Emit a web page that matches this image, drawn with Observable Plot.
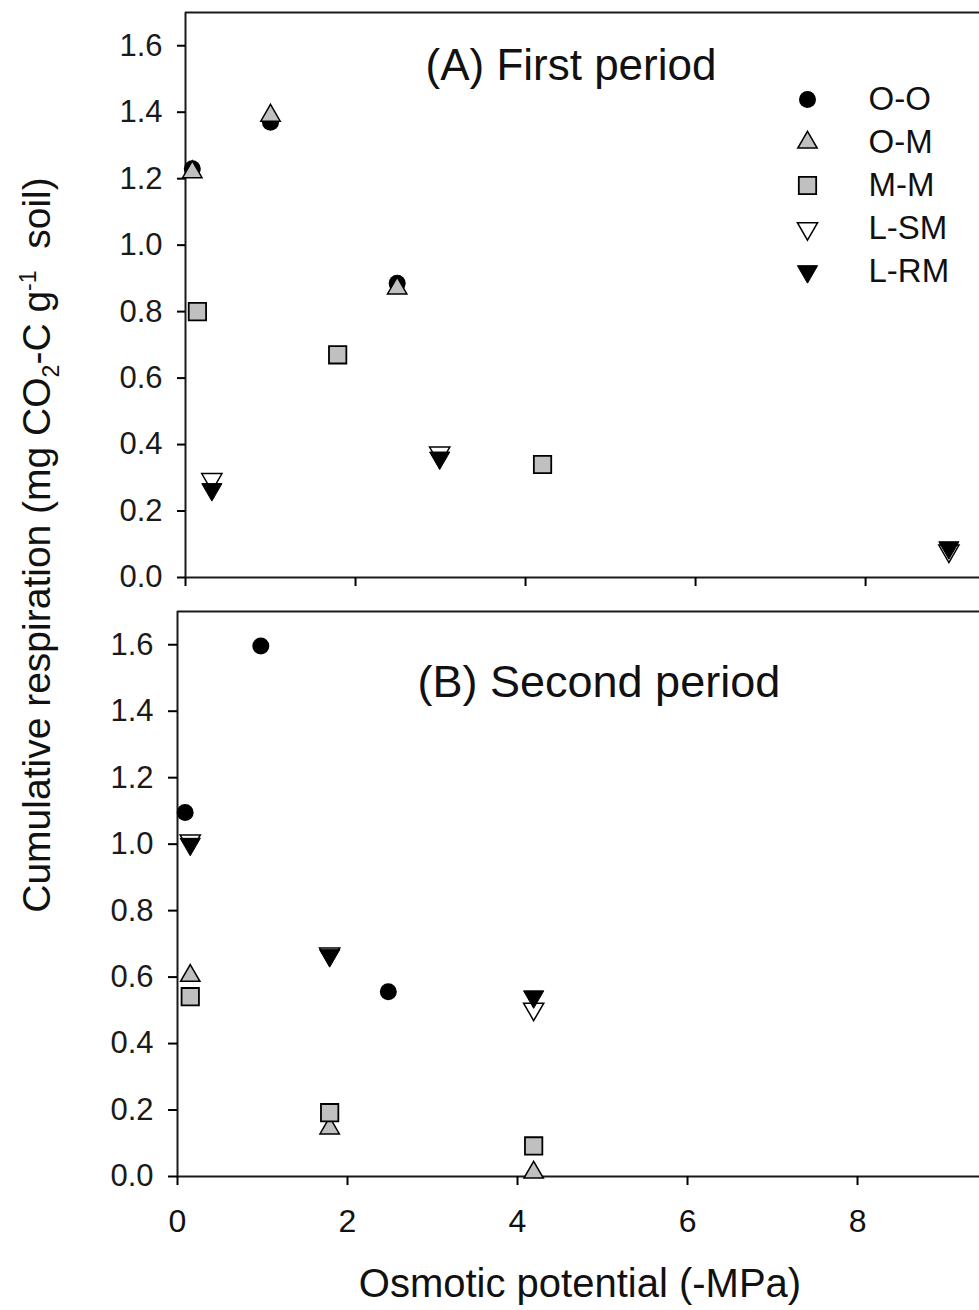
<!DOCTYPE html>
<html>
<head>
<meta charset="utf-8">
<script src="https://cdn.jsdelivr.net/npm/d3@7"></script>
<script src="https://cdn.jsdelivr.net/npm/@observablehq/plot@0.6"></script>
<style>
  html, body { margin: 0; padding: 0; background: #fff; overflow: hidden; }
  #wrap { position: relative; width: 979px; height: 1310px; font-family: "Liberation Sans", Arial, sans-serif; color: #000; }
  #wrap > * { position: absolute; }
  #ylab { left: 40px; top: 545px; transform: translate(-50%, -50%) rotate(-90deg); white-space: nowrap; font-size: 39px; line-height: 1; color: #111; }
  #ylab sub, #ylab sup { font-size: 23px; }
  #xlab { left: 0; width: 1160px; top: 1263px; text-align: center; font-size: 40px; line-height: 40px; white-space: nowrap; color: #111; }
</style>
</head>
<body>
<div id="wrap"></div>
<script>
// ---------- data ----------
const seriesNames = ["O-O", "O-M", "M-M", "L-SM", "L-RM"];
const xTicks = [0, 2, 4, 6, 8];
const yTicks = [0, 0.2, 0.4, 0.6, 0.8, 1.0, 1.2, 1.4, 1.6];
const titleA = "(A) First period";
const titleB = "(B) Second period";
const xLabel = "Osmotic potential (-MPa)";

// (A) First period
const aOO_x  = [0.08, 1.00, 2.49];  const aOO_y  = [1.23, 1.37, 0.885];
const aOM_x  = [0.08, 1.00, 2.49];  const aOM_y  = [1.22, 1.39, 0.87];
const aMM_x  = [0.14, 1.79, 4.20];  const aMM_y  = [0.80, 0.67, 0.34];
const aLSM_x = [0.31, 2.99, 8.98];  const aLSM_y = [0.295, 0.375, 0.08];
const aLRM_x = [0.31, 2.99, 8.98];  const aLRM_y = [0.265, 0.36, 0.09];

// (B) Second period
const bOO_x  = [0.09, 0.98, 2.48];  const bOO_y  = [1.095, 1.596, 0.556];
const bOM_x  = [0.15, 1.79, 4.19];  const bOM_y  = [0.604, 0.145, 0.012];
const bMM_x  = [0.15, 1.79, 4.19];  const bMM_y  = [0.541, 0.192, 0.092];
const bLSM_x = [0.15, 1.79, 4.19];  const bLSM_y = [1.01, 0.67, 0.504];
const bLRM_x = [0.15, 1.79, 4.19];  const bLRM_y = [1.00, 0.665, 0.541];

// ---------- helpers ----------
const pts = (xs, ys) => xs.map((x, i) => ({x, y: ys[i]}));
const triangleDown = {
  draw(ctx, size) {
    const y = -Math.sqrt(size / (3 * Math.sqrt(3)));
    ctx.moveTo(0, -2 * y);
    ctx.lineTo(-Math.sqrt(3) * y, y);
    ctx.lineTo(Math.sqrt(3) * y, y);
    ctx.closePath();
  }
};
const GRAY = "#c0c0c0";
const LINE = "#1a1a1a";
const styles = {
  "O-O":  {symbol: "circle",   r: 8.5, fill: "#000", stroke: "none"},
  "O-M":  {symbol: "triangle", r: 7.2, fill: GRAY,  stroke: "#000", strokeWidth: 1.5},
  "M-M":  {symbol: "square",   r: 9.8, fill: GRAY,  stroke: "#000", strokeWidth: 1.8},
  "L-SM": {symbol: triangleDown, r: 7.5, fill: "#fff", stroke: "#000", strokeWidth: 1.5},
  "L-RM": {symbol: triangleDown, r: 7.5, fill: "#000", stroke: "#000", strokeWidth: 1}
};
const xMaxA = 9.34, xMaxB = 9.435, yMax = 1.7;
const fontFamily = "'Liberation Sans', Arial, sans-serif";

function dots(series) {
  return series.map(([name, data]) => Plot.dot(data, {x: "x", y: "y", ...styles[name]}));
}

// ---------- panel A ----------
const plotA = Plot.plot({
  width: 979, height: 600,
  marginTop: 12, marginBottom: 23, marginLeft: 185, marginRight: 0,
  x: {domain: [0, xMaxA], axis: null},
  y: {domain: [0, yMax], axis: null},
  style: {fontFamily, fontSize: "30px", color: "#000", background: "transparent", overflow: "visible"},
  marks: [
    Plot.ruleY([yMax], {stroke: LINE, strokeWidth: 2}),
    Plot.ruleY([0], {stroke: LINE, strokeWidth: 2}),
    Plot.ruleX([0], {stroke: LINE, strokeWidth: 2}),
    Plot.axisY({ticks: yTicks, tickSize: 8, tickPadding: 15, strokeWidth: 2, tickFormat: d3.format(".1f"), label: null, fill: "#1a1a1a", fontSize: 31}),
    Plot.axisX({ticks: xTicks, tickSize: 9, tickFormat: () => "", strokeWidth: 2, label: null}),
    ...dots([["O-O", pts(aOO_x, aOO_y)], ["O-M", pts(aOM_x, aOM_y)], ["M-M", pts(aMM_x, aMM_y)],
             ["L-SM", pts(aLSM_x, aLSM_y)], ["L-RM", pts(aLRM_x, aLRM_y)]]),
    Plot.text([titleA], {frameAnchor: "top-left", textAnchor: "start", lineAnchor: "top", dx: 240, dy: 36, fontSize: 44, fill: "#111"})
  ]
});
plotA.style.left = "0px"; plotA.style.top = "0px";

// ---------- panel B ----------
const plotB = Plot.plot({
  width: 979, height: 710,
  marginTop: 11, marginBottom: 134, marginLeft: 177, marginRight: 0,
  x: {domain: [0, xMaxB], axis: null},
  y: {domain: [0, yMax], axis: null},
  style: {fontFamily, fontSize: "30px", color: "#000", background: "transparent", overflow: "visible"},
  marks: [
    Plot.ruleY([yMax], {stroke: LINE, strokeWidth: 2}),
    Plot.ruleY([0], {stroke: LINE, strokeWidth: 2}),
    Plot.ruleX([0], {stroke: LINE, strokeWidth: 2}),
    Plot.axisY({ticks: yTicks, tickSize: 9, tickPadding: 15, strokeWidth: 2, tickFormat: d3.format(".1f"), label: null, fill: "#1a1a1a", fontSize: 31}),
    Plot.axisX({ticks: xTicks, tickSize: 9, tickPadding: 24, strokeWidth: 2, tickFormat: d3.format("d"), label: null, fontSize: 32, fill: "#111"}),
    ...dots([["O-O", pts(bOO_x, bOO_y)], ["O-M", pts(bOM_x, bOM_y)], ["M-M", pts(bMM_x, bMM_y)],
             ["L-SM", pts(bLSM_x, bLSM_y)], ["L-RM", pts(bLRM_x, bLRM_y)]]),
    Plot.text([titleB], {frameAnchor: "top-left", textAnchor: "start", lineAnchor: "top", dx: 240, dy: 54, fontSize: 45, fill: "#111"})
  ]
});
plotB.style.left = "0px"; plotB.style.top = "600px";

// ---------- legend ----------
const legend = Plot.plot({
  width: 200, height: 220,
  marginTop: 22, marginBottom: 23, marginLeft: 0, marginRight: 0,
  x: {axis: null},
  y: {type: "point", domain: seriesNames, padding: 0, axis: null},
  style: {fontFamily, fontSize: "33px", background: "transparent", overflow: "visible"},
  marks: [
    ...seriesNames.map(name => Plot.dot([name], {y: d => d, frameAnchor: "left", dx: 27, ...styles[name]})),
    Plot.text(seriesNames, {y: d => d, frameAnchor: "left", dx: 88, textAnchor: "start", fontSize: 33, fill: "#111"})
  ]
});
legend.style.left = "780px"; legend.style.top = "75px";

// ---------- labels ----------
const wrap = document.getElementById("wrap");
wrap.append(plotA, plotB, legend);

const ylab = document.createElement("div");
ylab.id = "ylab";
ylab.innerHTML = "Cumulative respiration (mg CO<sub>2</sub>-C g<sup>-1</sup>&nbsp; soil)";
wrap.append(ylab);

const xlab = document.createElement("div");
xlab.id = "xlab";
xlab.textContent = xLabel;
wrap.append(xlab);
</script>
</body>
</html>
